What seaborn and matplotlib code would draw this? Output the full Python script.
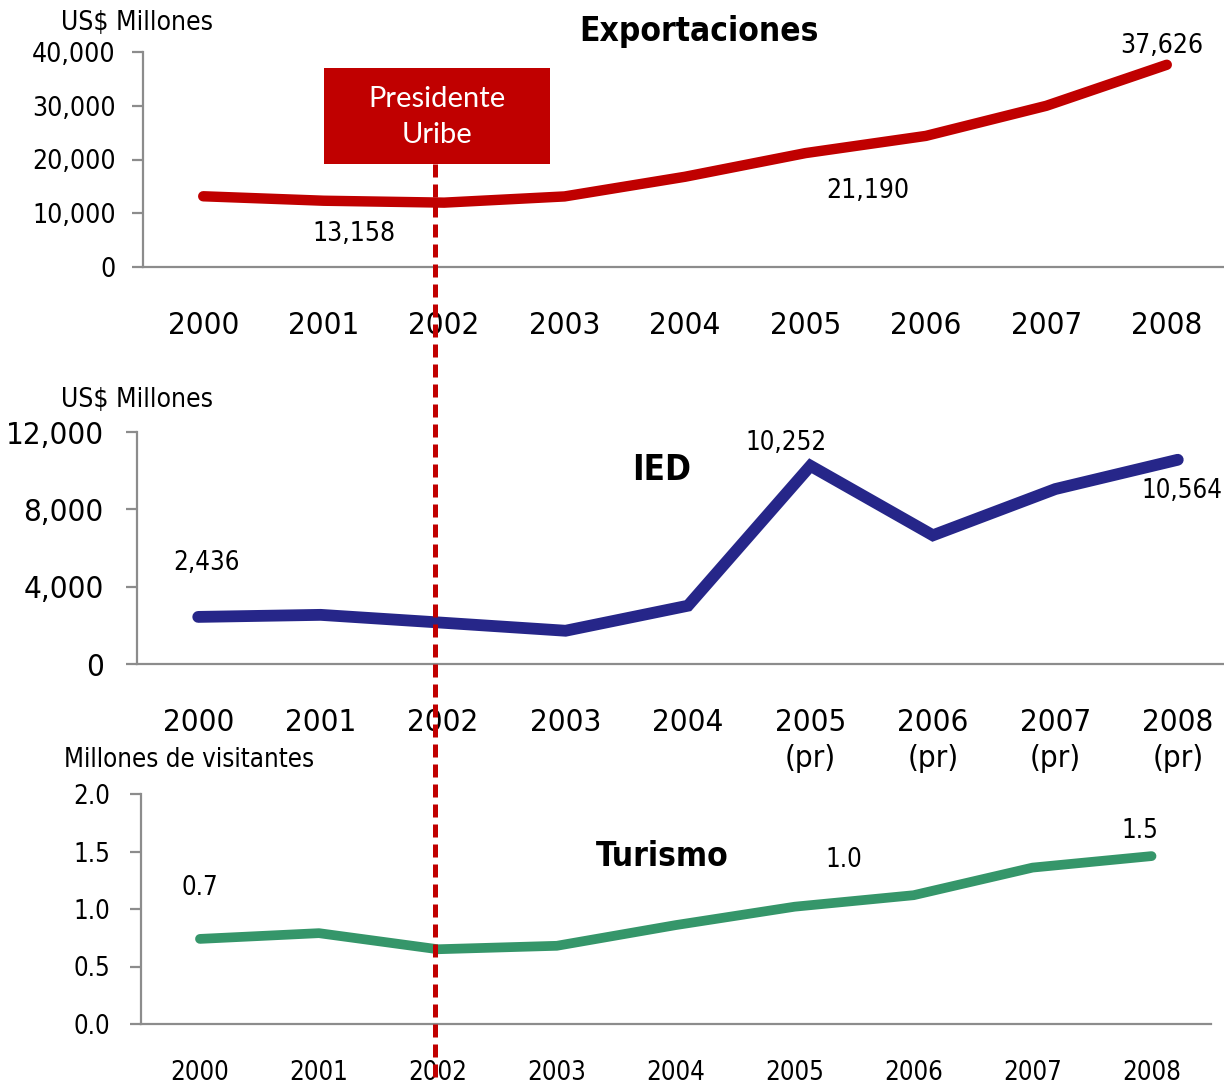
import numpy as np
import pandas as pd
import matplotlib
matplotlib.use('Agg')
import matplotlib.pyplot as plt
from matplotlib.patches import Rectangle
from matplotlib.lines import Line2D
import seaborn as sns

# Data
years = ['2000', '2001', '2002', '2003', '2004', '2005', '2006', '2007', '2008']
ied_years = ['2000', '2001', '2002', '2003', '2004',
             '2005\n(pr)', '2006\n(pr)', '2007\n(pr)', '2008\n(pr)']
exportaciones = [13158, 12330, 11975, 13129, 16788, 21190, 24391, 29991, 37626]
ied = [2436, 2542, 2134, 1720, 3016, 10252, 6656, 9049, 10564]
turismo = [0.74, 0.79, 0.65, 0.68, 0.86, 1.02, 1.12, 1.36, 1.46]

sns.set_style('white')
plt.rcParams['font.family'] = ['DejaVu Sans']
plt.rcParams['font.stretch'] = 'condensed'
plt.rcParams['text.color'] = 'black'
plt.rcParams['xtick.labelcolor'] = 'black'
plt.rcParams['ytick.labelcolor'] = 'black'

RED = '#C00000'
NAVY = '#262689'
GREEN = '#35966A'
GRAY = '#8C8C8C'

W, H = 1224, 1084
fig = plt.figure(figsize=(W / 100, H / 100), dpi=100)


def fx(px):
    return px / W


def fy(py):
    return 1 - py / H


def make_axes(left, right, top, bottom):
    return fig.add_axes([fx(left), fy(bottom), fx(right - left), (bottom - top) / H])


def style_axes(ax, labels, ylim, yticks, yfmt, ysize, xsize, xpad, ypad):
    n = len(labels)
    ax.set_xlim(-0.5, n - 0.5)
    ax.set_ylim(*ylim)
    for s in ['top', 'right']:
        ax.spines[s].set_visible(False)
    for s in ['left', 'bottom']:
        ax.spines[s].set_color(GRAY)
        ax.spines[s].set_linewidth(1.6)
    ax.set_xticks(range(n))
    ax.set_xticklabels(labels, fontsize=xsize, linespacing=1.3)
    ax.set_xticks(np.arange(-0.5, n, 1.0), minor=True)
    ax.tick_params(axis='x', which='major', length=0, pad=xpad, labelcolor='black')
    ax.tick_params(axis='x', which='minor', length=8, width=1.6, color=GRAY, direction='out')
    ax.set_yticks(yticks)
    ax.set_yticklabels([yfmt(v) for v in yticks], fontsize=ysize)
    ax.tick_params(axis='y', length=8, width=1.6, color=GRAY, direction='out', pad=ypad,
                   left=True, labelcolor='black')
    ax.set_xlabel('')
    ax.set_ylabel('')
    ax.set_facecolor('none')


# ---- Exportaciones ----
ax1 = make_axes(143, 1227, 52, 267)
df1 = pd.DataFrame({'x': range(len(years)), 'y': exportaciones})
sns.lineplot(data=df1, x='x', y='y', ax=ax1, color=RED, linewidth=7.5,
             solid_capstyle='round', solid_joinstyle='round')
style_axes(ax1, years, (0, 40000), [0, 10000, 20000, 30000, 40000],
           lambda v: f'{v:,.0f}', 19, 22.5, 32, 11.5)
ax1.text(1.25, 6140, f'{exportaciones[0]:,}', fontsize=19, ha='center', va='center')
ax1.text(5.52, 14140, f'{exportaciones[5]:,}', fontsize=19, ha='center', va='center')
ax1.text(7.96, 41100, f'{exportaciones[8]:,}', fontsize=19, ha='center', va='center')
fig.text(fx(699), fy(32), 'Exportaciones', fontsize=24, fontweight='bold',
         ha='center', va='center')
fig.text(fx(137), fy(23), 'US$ Millones', fontsize=19, ha='center', va='center')

# ---- IED ----
ax2 = make_axes(137, 1239, 432, 664)
df2 = pd.DataFrame({'x': range(len(years)), 'y': ied})
sns.lineplot(data=df2, x='x', y='y', ax=ax2, color=NAVY, linewidth=8.5,
             solid_capstyle='round', solid_joinstyle='miter')
style_axes(ax2, ied_years, (0, 12000), [0, 4000, 8000, 12000],
           lambda v: f'{v:,.0f}', 22.5, 22.5, 32, 16)
ax2.text(0.07, 5224, f'{ied[0]:,}', fontsize=18.5, ha='center', va='center')
ax2.text(4.80, 11431, f'{ied[5]:,}', fontsize=18.5, ha='center', va='center')
ax2.text(8.03, 8948, f'{ied[8]:,}', fontsize=18.5, ha='center', va='center')
fig.text(fx(662), fy(470), 'IED', fontsize=25, fontweight='bold', ha='center', va='center')
fig.text(fx(137), fy(400), 'US$ Millones', fontsize=19, ha='center', va='center')

# ---- Turismo ----
ax3 = make_axes(140.5, 1211, 794, 1024)
df3 = pd.DataFrame({'x': range(len(years)), 'y': turismo})
sns.lineplot(data=df3, x='x', y='y', ax=ax3, color=GREEN, linewidth=7,
             solid_capstyle='round', solid_joinstyle='round')
style_axes(ax3, years, (0, 2.0), [0.0, 0.5, 1.0, 1.5, 2.0],
           lambda v: f'{v:.1f}', 18.5, 18.5, 26, 14)
ax3.text(0.0, 1.18, f'{turismo[0]:.1f}', fontsize=18.5, ha='center', va='center')
ax3.text(5.41, 1.43, f'{turismo[5]:.1f}', fontsize=18.5, ha='center', va='center')
ax3.text(7.90, 1.68, f'{turismo[8]:.1f}', fontsize=18.5, ha='center', va='center')
fig.text(fx(662), fy(856), 'Turismo', fontsize=24, fontweight='bold', ha='center', va='center')
fig.text(fx(189), fy(760), 'Millones de visitantes', fontsize=18.5, ha='center', va='center')

# ---- Presidente Uribe marker ----
fig.add_artist(Line2D([fx(435), fx(435)], [fy(164), fy(1084)], color=RED, linewidth=3.6,
                      linestyle=(0, (2.6, 1.4)), zorder=10))
fig.add_artist(Rectangle((fx(324), fy(164)), fx(550 - 324), (164 - 68) / H,
                         facecolor=RED, edgecolor='none', zorder=11))
fig.text(fx(437), fy(117), 'Presidente\nUribe', color='white', fontsize=21,
         family=['Lato', 'DejaVu Sans'], fontstretch='normal',
         ha='center', va='center', linespacing=1.45, zorder=12)

fig.savefig('out.png', dpi=100)
